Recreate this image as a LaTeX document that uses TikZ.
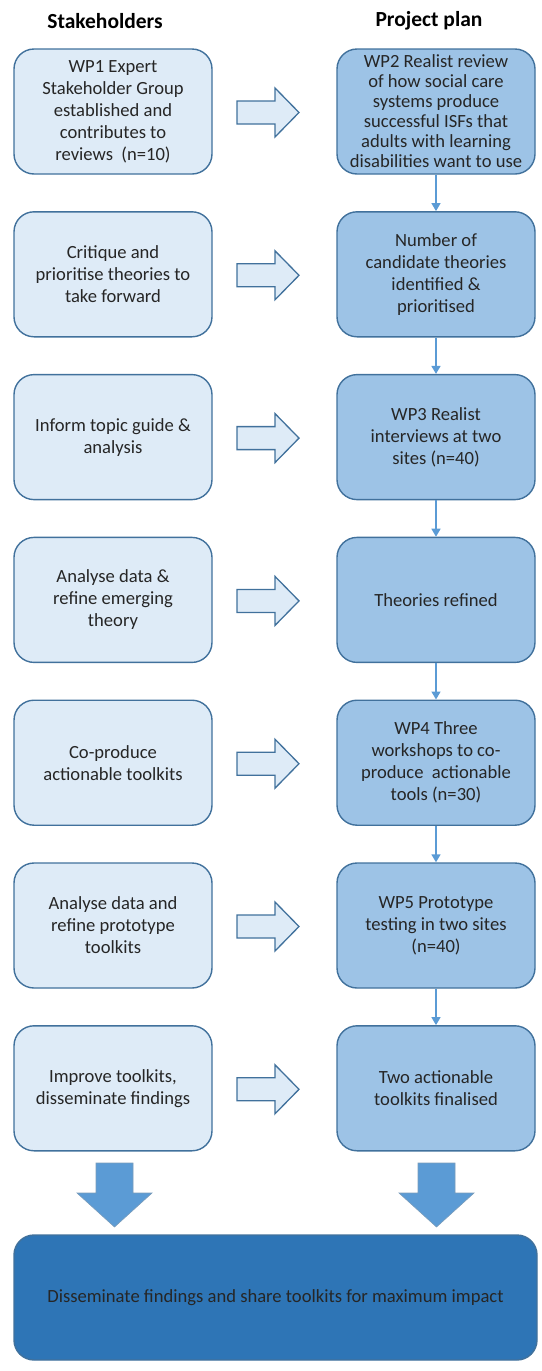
\documentclass[tikz,border=0pt]{standalone}
\usepackage{fontspec}
\setmainfont{Carlito}
\usetikzlibrary{arrows.meta}
\definecolor{lightfill}{RGB}{222,235,247}
\definecolor{midfill}{RGB}{157,195,230}
\definecolor{darkfill}{RGB}{46,117,182}
\definecolor{arrowfill}{RGB}{91,155,213}
\definecolor{edgeblue}{RGB}{65,113,156}
\tikzset{
  base/.style={rounded corners=20pt, draw=edgeblue, line width=1.4pt,
    minimum width=198pt, minimum height=125pt, align=center, inner sep=1pt,
    font=\fontsize{18.6pt}{22pt}\selectfont, text=black!85},
  lbox/.style={base, fill=lightfill},
  rbox/.style={base, fill=midfill},
  head/.style={font=\fontsize{21.5pt}{25pt}\selectfont\bfseries},
  conn/.style={draw=arrowfill, line width=1.5pt, -{Triangle[width=9pt,length=8pt]}},
  rarr/.style={draw=edgeblue, line width=1.3pt, fill=lightfill, line join=miter},
  darr/.style={draw=edgeblue!70, line width=0.6pt, fill=arrowfill}
}
\begin{document}
\begin{tikzpicture}[x=1pt,y=-1pt]
\useasboundingbox (0,0) rectangle (541,1371);
\node[head] (hs) at (105,21) {Stakeholders};
\node[head] (hp) at (429,21) {Project plan};
% rows: tops at 49 + 162.8*i, centre = top + 62.5
\node[lbox] (l1) at (113,111.5) {WP1 Expert\\Stakeholder Group\\established and\\contributes to\\reviews~~(n=10)};
\node[rbox, font=\fontsize{18.6pt}{20pt}\selectfont] (r1) at (436,111.5) {WP2 Realist review\\of how social care\\systems produce\\successful ISFs that\\adults with learning\\disabilities want to use};
\node[lbox] (l2) at (113,274.3) {Critique and\\prioritise theories to\\take forward};
\node[rbox] (r2) at (436,274.3) {Number of\\candidate theories\\identified \&\\prioritised};
\node[lbox] (l3) at (113,437.1) {Inform topic guide \&\\analysis};
\node[rbox] (r3) at (436,437.1) {WP3 Realist\\interviews at two\\sites (n=40)};
\node[lbox] (l4) at (113,599.9) {Analyse data \&\\refine emerging\\theory};
\node[rbox] (r4) at (436,599.9) {Theories refined};
\node[lbox] (l5) at (113,762.7) {Co-produce\\actionable toolkits};
\node[rbox] (r5) at (436,762.7) {WP4 Three\\workshops to co-\\produce~~actionable\\tools (n=30)};
\node[lbox] (l6) at (113,925.5) {Analyse data and\\refine prototype\\toolkits};
\node[rbox] (r6) at (436,925.5) {WP5 Prototype\\testing in two sites\\(n=40)};
\node[lbox] (l7) at (113,1088.3) {Improve toolkits,\\disseminate findings};
\node[rbox] (r7) at (436,1088.3) {Two actionable\\toolkits finalised};
\node[base, fill=darkfill, minimum width=523pt, minimum height=125pt] (fin) at (275.5,1297.5) {Disseminate findings and share toolkits for maximum impact};
% connectors
\foreach \a/\b in {r1/r2,r2/r3,r3/r4,r4/r5,r5/r6,r6/r7}
  \draw[conn] (\a.south) -- (\b.north);
% block arrows between columns
\foreach \i in {0,...,6} {
  \begin{scope}[yshift=-162.8*\i]
  \draw[rarr] (237,101) -- (275,101) -- (275,88) -- (299,112.5) -- (275,137) -- (275,124) -- (237,124) -- cycle;
  \end{scope}
}
% down arrows
\draw[darr] (96,1163) -- (133,1163) -- (133,1193) -- (152,1193) -- (114.5,1227) -- (77,1193) -- (96,1193) -- cycle;
\draw[darr] (418,1163) -- (455,1163) -- (455,1193) -- (474,1193) -- (436.5,1227) -- (399,1193) -- (418,1193) -- cycle;
\end{tikzpicture}
\end{document}
